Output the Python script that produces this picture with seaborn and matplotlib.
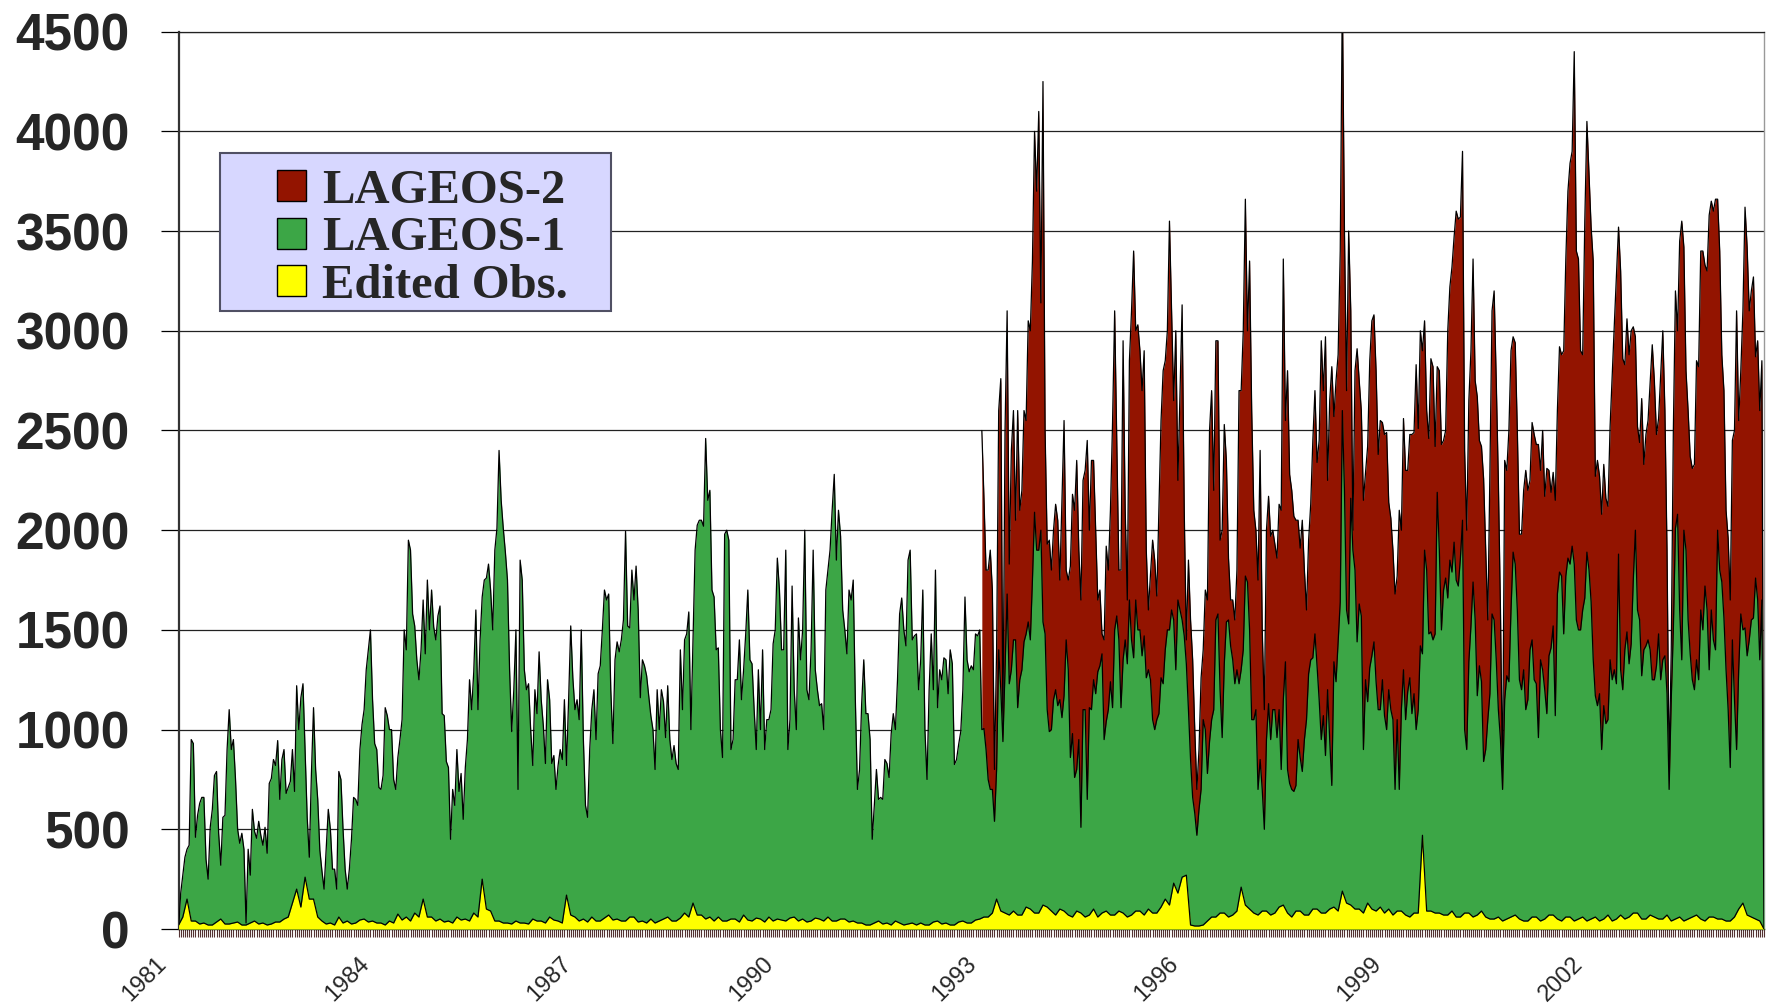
import numpy as np
import pandas as pd
import matplotlib
matplotlib.use("Agg")
import matplotlib.pyplot as plt
from matplotlib.patches import Patch, Rectangle
from matplotlib.font_manager import FontProperties
from matplotlib.transforms import ScaledTranslation
import seaborn as sns

# ---------------- data ----------------
start_year = 1981.0
step = 1 / 32  # 32 samples per year

lageos1 = [
    0, 180, 270, 360, 400, 420, 950, 930, 460, 570, 630, 660, 660, 350, 250, 510,
    600, 770, 790, 480, 320, 560, 570, 900, 1100, 900, 950, 750, 500, 430, 480, 400,        # 1981
    30, 400, 270, 600, 490, 455, 540, 470, 420, 510, 380, 730, 755, 850, 820, 945,
    650, 850, 900, 680, 710, 740, 900, 690, 1220, 1000, 1160, 1230, 900, 560, 360, 780,      # 1982
    1110, 800, 650, 395, 290, 200, 400, 600, 500, 300, 300, 200, 790, 750, 500, 300,
    200, 300, 450, 660, 650, 620, 900, 1025, 1100, 1300, 1400, 1500, 1150, 930, 900, 710,    # 1983
    700, 770, 1110, 1070, 1000, 1000, 750, 700, 860, 950, 1050, 1500, 1400, 1950, 1900, 1580,
    1520, 1350, 1250, 1400, 1650, 1380, 1750, 1500, 1700, 1515, 1450, 1570, 1620, 1080, 1070, 840,  # 1984
    810, 450, 700, 620, 900, 690, 780, 550, 810, 950, 1250, 1100, 1290, 1600, 1100, 1450,
    1665, 1750, 1760, 1830, 1700, 1500, 1900, 2010, 2400, 2150, 2010, 1890, 1750, 1300, 990, 1200,  # 1985
    1500, 700, 1850, 1750, 1300, 1200, 1230, 1000, 820, 1200, 1080, 1390, 1150, 1020, 830, 1250,
    1150, 830, 870, 700, 820, 900, 850, 1150, 820, 1150, 1520, 1260, 1100, 1150, 1050, 1500,  # 1986
    950, 620, 560, 900, 1100, 1200, 950, 1280, 1320, 1500, 1700, 1650, 1680, 1200, 930, 1350,
    1440, 1390, 1450, 1550, 1995, 1520, 1510, 1800, 1650, 1820, 1600, 1160, 1350, 1320, 1270, 1170,  # 1987
    1070, 1000, 800, 1200, 1000, 1200, 1140, 960, 1220, 950, 850, 920, 830, 800, 1400, 1100,
    1450, 1480, 1590, 1000, 1450, 1900, 2025, 2050, 2050, 2020, 2460, 2150, 2200, 1700, 1665, 1400,  # 1988
    1410, 1000, 860, 1980, 2000, 1950, 900, 950, 1250, 1250, 1450, 1150, 1300, 1480, 1700, 1350,
    1330, 1100, 900, 1300, 1000, 1400, 900, 1050, 1050, 1100, 1430, 1500, 1860, 1700, 1400, 1400,  # 1989
    1900, 900, 1050, 1720, 1200, 1000, 1560, 1350, 1500, 2000, 1200, 1150, 1400, 1900, 1300, 1200,
    1120, 1130, 1000, 1700, 1800, 1900, 2100, 2280, 1850, 2100, 1970, 1600, 1500, 1380, 1700, 1650,  # 1990
    1750, 1150, 700, 800, 1130, 1350, 1080, 1080, 950, 450, 620, 800, 650, 660, 650, 850,
    830, 760, 980, 1080, 1000, 1250, 1580, 1660, 1500, 1420, 1850, 1900, 1450, 1470, 1480, 1200,  # 1991
    1350, 1700, 1000, 750, 1200, 1480, 1200, 1800, 1110, 1300, 1250, 1360, 1350, 1180, 1400, 1330,
    825, 850, 925, 990, 1200, 1665, 1350, 1290, 1320, 1300, 1480, 1470, 1500, 1000, 1005, 900,   # 1992
    750, 700, 700, 540, 800, 1400, 1200, 940, 1300, 1680, 1230, 1300, 1450, 1450, 1110, 1250,
    1300, 1440, 1480, 1540, 1450, 1750, 2090, 1900, 1900, 2000, 1540, 1480, 1100, 990, 1000, 1150,  # 1993
    1200, 1120, 1150, 1060, 1170, 1450, 1300, 860, 980, 760, 800, 950, 510, 1100, 1100, 650,
    1110, 1100, 1250, 1180, 1290, 1320, 1380, 950, 1040, 1100, 1240, 1110, 1500, 1570, 1450, 1110,  # 1994
    1350, 1450, 1330, 1650, 1450, 1360, 1650, 1500, 1500, 1370, 1470, 1260, 1300, 1250, 1050, 1000,
    1050, 1080, 1260, 1230, 1400, 1500, 1500, 1600, 1550, 1300, 1650, 1600, 1550, 1470, 1330, 1100,  # 1995
    850, 660, 580, 470, 600, 700, 1050, 1000, 780, 940, 1050, 1100, 1550, 1580, 1200, 960,
    1330, 1540, 1550, 1420, 1350, 1230, 1300, 1230, 1300, 1400, 1770, 1740, 1500, 1050, 1050, 1100,  # 1996
    700, 850, 700, 500, 950, 1130, 950, 1100, 1100, 960, 1100, 800, 1150, 1340, 800, 730,
    700, 690, 720, 950, 860, 790, 950, 1050, 1280, 1350, 1360, 1480, 1320, 1150, 950, 1070,   # 1997
    870, 1200, 950, 720, 1340, 1240, 1440, 1640, 2600, 2200, 1600, 1530, 2160, 1900, 1800, 1440,
    1630, 1570, 900, 1250, 1140, 1310, 1370, 1440, 1240, 1100, 1100, 1250, 1070, 1000, 1200, 1100,  # 1998
    1050, 700, 1050, 700, 1100, 1300, 1050, 1190, 1260, 1080, 1180, 1000, 1100, 1420, 1380, 1900,
    1800, 1480, 1490, 1450, 1480, 2190, 1900, 1500, 1700, 1760, 1660, 1850, 1790, 1940, 1750, 1720,  # 1999
    1860, 2050, 1000, 900, 1340, 1520, 1740, 1550, 1170, 1320, 1240, 840, 900, 1050, 1180, 1580,
    1550, 1350, 1100, 950, 700, 1150, 1270, 1240, 1600, 1890, 1830, 1600, 1250, 1200, 1300, 1100,  # 2000
    1150, 1400, 1450, 1250, 1230, 960, 1350, 1300, 1200, 1080, 1370, 1410, 1520, 1070, 1680, 1790,
    1770, 1480, 1770, 1860, 1830, 1920, 1830, 1550, 1500, 1500, 1600, 1660, 1890, 1800, 1640, 1350,  # 2001
    1170, 1120, 1180, 900, 1120, 1030, 1050, 1350, 1250, 1300, 1230, 1880, 1300, 1200, 1400, 1490,
    1330, 1430, 1750, 2000, 1600, 1550, 1270, 1400, 1420, 1450, 1400, 1250, 1250, 1320, 1480, 1250,  # 2002
    1350, 1370, 1180, 700, 1150, 1500, 2010, 2080, 1600, 1350, 2000, 1900, 1550, 1380, 1250, 1200,
    1350, 1250, 1600, 1500, 1720, 1600, 1300, 1600, 1450, 1400, 2000, 1800, 1740, 1560, 1300, 1100,  # 2003
    810, 1450, 1150, 900, 1300, 1580, 1500, 1510, 1370, 1450, 1550, 1560, 1760, 1650, 1350, 1650,
    0,                                                                                        # 2004
]

lageos2_start = 1992.90625
lageos2 = [
    2500, 2160, 1800,                                                                         # 1992
    1800, 1900, 1700, 800, 1400, 2600, 2760, 1000, 2500, 3100, 1830, 2400, 2600, 2050, 2600, 2100,
    2200, 2600, 2550, 3050, 3000, 3350, 4000, 3700, 4100, 3140, 4250, 2500, 1930, 1950, 1800, 2000,  # 1993
    2130, 2050, 1750, 2150, 2550, 1800, 1750, 1820, 2180, 2100, 2350, 1900, 1650, 2250, 2300, 2450,
    2000, 2350, 2350, 2000, 1650, 1700, 1480, 1450, 1920, 1800, 2100, 2540, 3100, 2450, 1800, 1800,  # 1994
    2950, 2100, 1650, 2850, 3100, 3400, 3000, 3030, 2900, 2700, 2900, 1900, 1600, 1780, 1950, 1850,
    1670, 2100, 2550, 2800, 2850, 3000, 3550, 3100, 2650, 3000, 2250, 2700, 3130, 2100, 1450, 1850,  # 1995
    1550, 1350, 1000, 700, 900, 1260, 1400, 1700, 1650, 2500, 2700, 2200, 2950, 2950, 1950, 2000,
    2530, 2350, 1860, 1650, 1650, 1550, 1800, 2700, 2700, 3000, 3660, 3000, 3350, 2600, 2100, 2000,  # 1996
    1750, 2400, 1500, 1100, 2000, 2170, 1970, 2000, 1930, 1860, 2130, 2100, 3360, 2550, 2800, 2280,
    2200, 2070, 2050, 2050, 1910, 2050, 1800, 1600, 1950, 2130, 2450, 2700, 2340, 2450, 2950, 2700,  # 1997
    2970, 2250, 2650, 2820, 2570, 2750, 2880, 3400, 4700, 3500, 2700, 3500, 3100, 2000, 2800, 2910,
    2750, 2600, 2150, 2290, 2420, 2850, 3050, 3080, 2800, 2380, 2550, 2540, 2480, 2490, 2140, 2060,  # 1998
    1900, 1680, 1770, 2100, 2000, 2560, 2300, 2300, 2480, 2480, 2490, 2830, 2510, 3000, 2900, 3050,
    2600, 2460, 2860, 2820, 2420, 2820, 2800, 2430, 2450, 2500, 3000, 3220, 3320, 3470, 3600, 3560,  # 1999
    3570, 3900, 2400, 2000, 2650, 2900, 3360, 2750, 2670, 2450, 2420, 2260, 1900, 1550, 2300, 3100,
    3200, 2750, 2250, 1600, 750, 2350, 2300, 2500, 2900, 2970, 2940, 2500, 1980, 1980, 2200, 2300,  # 2000
    2200, 2250, 2540, 2480, 2430, 2430, 2300, 2500, 2170, 2310, 2300, 2190, 2290, 2150, 2600, 2920,
    2880, 2900, 3360, 3700, 3840, 3900, 4400, 3400, 3360, 2900, 2880, 3550, 4050, 3790, 3520, 3350,  # 2001
    2270, 2350, 2270, 2080, 2330, 2160, 2120, 2520, 2780, 3030, 3270, 3520, 3300, 2860, 2830, 3060,
    2880, 3000, 3020, 2970, 2520, 2440, 2660, 2330, 2480, 2550, 2740, 2930, 2750, 2480, 2560, 2780,  # 2002
    3000, 2600, 1900, 800, 1400, 2500, 3200, 3000, 3450, 3550, 3420, 2800, 2600, 2370, 2310, 2330,
    2850, 2820, 3400, 3400, 3330, 3300, 3580, 3650, 3600, 3660, 3660, 3400, 2880, 2700, 2100, 1960,  # 2003
    1650, 2450, 2500, 3100, 2550, 2800, 3100, 3620, 3420, 3100, 3200, 3270, 2870, 2950, 2600, 2850,
    0,                                                                                        # 2004
]

edited_step = 1 / 16
edited = [
    20, 60, 150, 40, 40, 25, 30, 20, 20, 35, 50, 25, 25, 30, 35, 20,          # 1981
    20, 30, 40, 25, 30, 20, 25, 35, 35, 50, 60, 130, 200, 110, 260, 150,      # 1982
    150, 60, 40, 25, 30, 20, 60, 30, 40, 25, 30, 45, 50, 35, 40, 30,          # 1983
    30, 20, 40, 30, 75, 45, 60, 40, 80, 60, 150, 60, 60, 40, 50, 35,          # 1984
    40, 30, 60, 45, 50, 40, 80, 60, 250, 100, 90, 40, 40, 30, 30, 25,         # 1985
    40, 30, 30, 25, 50, 40, 40, 30, 60, 45, 40, 30, 170, 70, 60, 40,          # 1986
    50, 35, 60, 40, 40, 55, 70, 45, 50, 40, 40, 60, 60, 35, 40, 30,           # 1987
    50, 30, 40, 50, 60, 40, 40, 55, 80, 60, 130, 70, 70, 50, 60, 40,          # 1988
    60, 40, 40, 50, 50, 35, 70, 45, 40, 55, 50, 35, 60, 40, 50, 45,           # 1989
    40, 55, 60, 40, 50, 35, 40, 55, 50, 40, 60, 40, 40, 50, 50, 35,           # 1990
    40, 30, 30, 20, 20, 30, 40, 25, 30, 20, 40, 30, 20, 25, 30, 20,           # 1991
    30, 20, 20, 35, 40, 25, 30, 20, 20, 35, 40, 30, 30, 45, 50, 60,           # 1992
    60, 80, 150, 90, 80, 70, 90, 70, 70, 110, 100, 80, 80, 120, 110, 90,      # 1993
    70, 100, 90, 70, 60, 90, 80, 60, 70, 100, 60, 80, 90, 70, 70, 90,         # 1994
    80, 60, 70, 90, 90, 70, 100, 80, 80, 110, 150, 120, 230, 180, 260, 270,   # 1995
    20, 15, 15, 20, 40, 60, 60, 80, 80, 60, 70, 90, 210, 120, 100, 80,        # 1996
    70, 90, 90, 70, 80, 110, 120, 80, 60, 90, 90, 70, 70, 100, 100, 80,       # 1997
    80, 100, 110, 90, 190, 130, 120, 100, 100, 80, 130, 100, 90, 110, 80, 100,  # 1998
    70, 90, 90, 70, 60, 80, 80, 470, 90, 90, 80, 80, 70, 70, 90, 60,          # 1999
    60, 80, 80, 60, 70, 90, 60, 50, 50, 60, 40, 50, 60, 70, 50, 40,           # 2000
    40, 60, 60, 40, 50, 70, 70, 50, 40, 60, 60, 40, 50, 60, 40, 50,           # 2001
    60, 40, 50, 70, 40, 50, 70, 50, 60, 80, 80, 50, 50, 70, 60, 50,           # 2002
    50, 70, 40, 50, 60, 40, 50, 60, 70, 50, 40, 60, 60, 50, 50, 40,           # 2003
    40, 60, 100, 130, 70, 60, 50, 40, 0,                                      # 2004
]

year_ticks = [1981, 1984, 1987, 1990, 1993, 1996, 1999, 2002]
value_ticks = [0, 500, 1000, 1500, 2000, 2500, 3000, 3500, 4000, 4500]
series_names = ["LAGEOS-2", "LAGEOS-1", "Edited Obs."]
series_colors = ["#931400", "#3CA646", "#FFFF00"]

# ---------------- build frames ----------------
df1 = pd.DataFrame({"year": start_year + np.arange(len(lageos1)) * step, "obs": lageos1})
df2 = pd.DataFrame({"year": lageos2_start + np.arange(len(lageos2)) * step, "obs": lageos2})
dfe = pd.DataFrame({"year": start_year + np.arange(len(edited)) * edited_step, "obs": edited})
end_year = df1["year"].iloc[-1]

sns.set_theme(style="white")
plt.rcParams["font.family"] = ["Liberation Sans", "DejaVu Sans"]

fig = plt.figure(figsize=(17.73, 10.05), dpi=100)
ax = fig.add_axes([0.10073, 0.07562, 0.89419, 0.89284])

frames = [df2, df1, dfe]
for i, (df, name, col) in enumerate(zip(frames, series_names, series_colors)):
    ax.fill_between(df["year"], 0, df["obs"], color=col, lw=0, zorder=2 + i)
    sns.lineplot(data=df, x="year", y="obs", color="black", lw=0.9, ax=ax,
                 zorder=2.5 + i, sort=True, estimator=None)

ax.set_xlim(start_year, end_year)
ax.set_ylim(0, 4500)
ax.set_xlabel("")
ax.set_ylabel("")

# grid
ax.set_yticks(value_ticks)
ax.yaxis.grid(True, color="#222222", lw=0.9, zorder=0)
ax.xaxis.grid(False)
ax.set_axisbelow(True)

# ticks
ax.set_xticks(year_ticks)
ax.set_xticks(np.arange(start_year, end_year + 1e-9, 1 / 32), minor=True)
ax.tick_params(axis="x", which="both", direction="out", length=6, width=0.8,
               color="#553333", bottom=True, labelsize=17, pad=11)
ax.tick_params(axis="y", which="major", direction="out", length=13, width=0.9,
               color="black", left=True, pad=22)
for lbl in ax.get_yticklabels():
    lbl.set_fontproperties(FontProperties(family="Liberation Sans", weight="bold", size=37))
for lbl in ax.get_xticklabels():
    lbl.set_rotation(45)
    lbl.set_ha("right")
    lbl.set_va("top")
    lbl.set_rotation_mode("anchor")
    lbl.set_transform(lbl.get_transform() + ScaledTranslation(-23 / 100, 0, fig.dpi_scale_trans))

# spines
for s in ["left", "bottom", "right", "top"]:
    ax.spines[s].set_visible(True)
ax.spines["left"].set_color("#333333")
ax.spines["left"].set_linewidth(1.6)
ax.spines["bottom"].set_color("black")
ax.spines["bottom"].set_linewidth(1.0)
ax.spines["right"].set_color("#999999")
ax.spines["right"].set_linewidth(1.0)
ax.spines["top"].set_color("#222222")
ax.spines["top"].set_linewidth(0.9)

# legend box
box = Rectangle((0.0264, 0.689), 0.2461, 0.176, transform=ax.transAxes,
                facecolor="#D7D7FF", edgecolor="#505064", lw=1.5, zorder=8)
ax.add_patch(box)
handles = [Patch(facecolor=c, edgecolor="black", lw=1.0) for c in series_colors]
leg = ax.legend(handles, series_names, loc="center left", bbox_to_anchor=(0.0621, 0.7696),
                frameon=False, borderpad=0, borderaxespad=0,
                prop=FontProperties(family="Liberation Serif", weight="bold", size=35),
                handlelength=0.6, handleheight=0.6, handletextpad=0.32, labelspacing=0.07)
leg.set_zorder(9)

fig.savefig("out.png", dpi=100)
